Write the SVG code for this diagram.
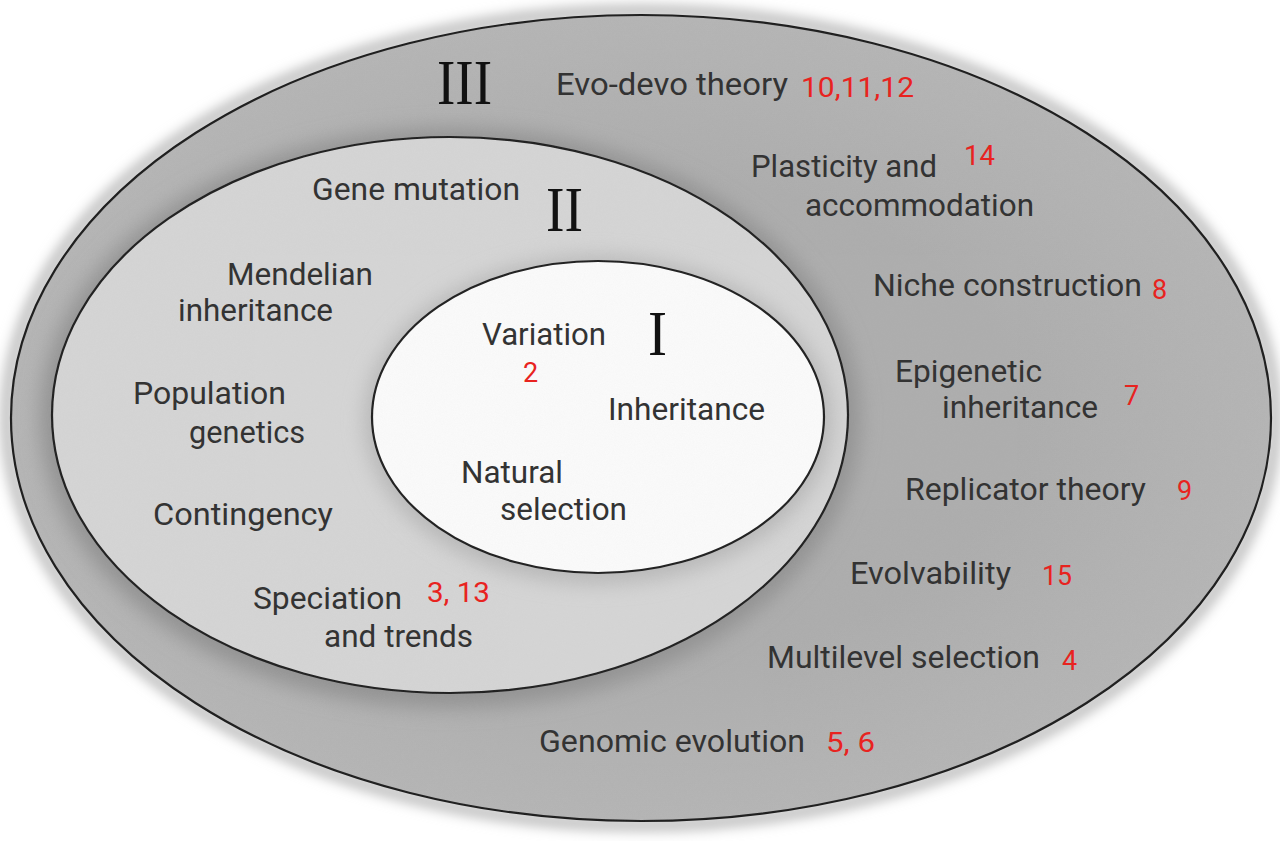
<svg xmlns="http://www.w3.org/2000/svg" width="1280" height="841" viewBox="0 0 1280 841">
  <defs>
    <filter id="blur6" x="-20%" y="-20%" width="140%" height="140%"><feGaussianBlur stdDeviation="6"/></filter>
    <filter id="blur10" x="-20%" y="-20%" width="140%" height="140%"><feGaussianBlur stdDeviation="10"/></filter>
    <filter id="noise" x="0" y="0" width="100%" height="100%">
      <feTurbulence type="fractalNoise" baseFrequency="0.9" numOctaves="2" seed="3" result="n"/>
      <feColorMatrix in="n" type="matrix" values="0 0 0 0 0.5  0 0 0 0 0.5  0 0 0 0 0.5  0 0 0 0.12 0"/>
    </filter>
    <clipPath id="outerClip"><ellipse cx="641" cy="418" rx="630" ry="403"/></clipPath>
    <clipPath id="midClip"><ellipse cx="450" cy="415" rx="398" ry="278"/></clipPath>
    <radialGradient id="outerGrad" cx="0.5" cy="0.5" r="0.5">
      <stop offset="0.6" stop-color="#adadad"/>
      <stop offset="1" stop-color="#b5b5b5"/>
    </radialGradient>
  </defs>
  <style>
    .lbl { font-family: Roboto, "Liberation Sans", sans-serif; font-size: 31px; fill: #333333; }
    .num { font-family: Roboto, "Liberation Sans", sans-serif; font-size: 27px; fill: #e8231f; }
    .rom { font-family: "Liberation Serif", "DejaVu Serif", serif; font-size: 64px; fill: #111111; }
    .edge { stroke: #1e1e1e; stroke-width: 2.2; }
  </style>
  <rect width="1280" height="841" fill="#ffffff"/>

  <g id="region-III">
    <ellipse cx="641" cy="418" rx="634" ry="407" fill="none" stroke="#c4c4c4" stroke-width="14" filter="url(#blur6)"/>
    <ellipse cx="641" cy="418" rx="630" ry="403" fill="url(#outerGrad)"/>
    <g clip-path="url(#outerClip)">
      <ellipse cx="450" cy="418" rx="410" ry="290" fill="#939393" filter="url(#blur10)"/>
    </g>
    <ellipse cx="641" cy="418" rx="630" ry="403" fill="none" class="edge"/>
  </g>

  <g id="region-II">
    <ellipse cx="450" cy="415" rx="398" ry="278" fill="#d5d5d5"/>
    <g clip-path="url(#midClip)">
      <ellipse cx="598" cy="420" rx="234" ry="164" fill="#b8b8b8" filter="url(#blur10)"/>
    </g>
    <ellipse cx="450" cy="415" rx="398" ry="278" fill="none" class="edge"/>
  </g>

  <g id="region-I">
    <ellipse cx="598" cy="417" rx="226" ry="156" fill="#fbfbfb" class="edge"/>
  </g>

  <rect width="1280" height="841" filter="url(#noise)" clip-path="url(#outerClip)" opacity="0.6"/>

  <g id="connectors"/>

  <g id="numerals">
    <text class="rom" x="437" y="104" textLength="55" lengthAdjust="spacingAndGlyphs">III</text>
    <text class="rom" x="546" y="231" textLength="37" lengthAdjust="spacingAndGlyphs">II</text>
    <text class="rom" x="648" y="355" textLength="19" lengthAdjust="spacingAndGlyphs">I</text>
  </g>

  <g id="node-evo-devo">
    <text class="lbl" x="556" y="95" textLength="232" lengthAdjust="spacingAndGlyphs">Evo-devo theory</text>
    <text class="num" x="801" y="97" textLength="113" lengthAdjust="spacingAndGlyphs">10,11,12</text>
  </g>
  <g id="node-plasticity">
    <text class="lbl" x="751" y="177" textLength="186" lengthAdjust="spacingAndGlyphs">Plasticity and</text>
    <text class="lbl" x="805" y="216" textLength="229" lengthAdjust="spacingAndGlyphs">accommodation</text>
    <text class="num" x="964" y="165" textLength="31" lengthAdjust="spacingAndGlyphs">14</text>
  </g>
  <g id="node-niche">
    <text class="lbl" x="873" y="296" textLength="269" lengthAdjust="spacingAndGlyphs">Niche construction</text>
    <text class="num" x="1152" y="299">8</text>
  </g>
  <g id="node-epigenetic">
    <text class="lbl" x="895" y="382" textLength="147" lengthAdjust="spacingAndGlyphs">Epigenetic</text>
    <text class="lbl" x="942" y="418" textLength="156" lengthAdjust="spacingAndGlyphs">inheritance</text>
    <text class="num" x="1124" y="405">7</text>
  </g>
  <g id="node-replicator">
    <text class="lbl" x="905" y="500" textLength="241" lengthAdjust="spacingAndGlyphs">Replicator theory</text>
    <text class="num" x="1177" y="500">9</text>
  </g>
  <g id="node-evolvability">
    <text class="lbl" x="850" y="584" textLength="161" lengthAdjust="spacingAndGlyphs">Evolvability</text>
    <text class="num" x="1042" y="585" textLength="30" lengthAdjust="spacingAndGlyphs">15</text>
  </g>
  <g id="node-multilevel">
    <text class="lbl" x="767" y="668" textLength="273" lengthAdjust="spacingAndGlyphs">Multilevel selection</text>
    <text class="num" x="1062" y="670">4</text>
  </g>
  <g id="node-genomic">
    <text class="lbl" x="539" y="752" textLength="266" lengthAdjust="spacingAndGlyphs">Genomic evolution</text>
    <text class="num" x="826" y="752" textLength="49" lengthAdjust="spacingAndGlyphs">5, 6</text>
  </g>

  <g id="node-gene-mutation">
    <text class="lbl" x="312" y="200" textLength="208" lengthAdjust="spacingAndGlyphs">Gene mutation</text>
  </g>
  <g id="node-mendelian">
    <text class="lbl" x="227" y="285" textLength="146" lengthAdjust="spacingAndGlyphs">Mendelian</text>
    <text class="lbl" x="178" y="321" textLength="155" lengthAdjust="spacingAndGlyphs">inheritance</text>
  </g>
  <g id="node-population">
    <text class="lbl" x="133" y="404" textLength="153" lengthAdjust="spacingAndGlyphs">Population</text>
    <text class="lbl" x="189" y="443" textLength="116" lengthAdjust="spacingAndGlyphs">genetics</text>
  </g>
  <g id="node-contingency">
    <text class="lbl" x="153" y="525" textLength="180" lengthAdjust="spacingAndGlyphs">Contingency</text>
  </g>
  <g id="node-speciation">
    <text class="lbl" x="253" y="609" textLength="149" lengthAdjust="spacingAndGlyphs">Speciation</text>
    <text class="lbl" x="324" y="647" textLength="149" lengthAdjust="spacingAndGlyphs">and trends</text>
    <text class="num" x="427" y="602" textLength="63" lengthAdjust="spacingAndGlyphs">3, 13</text>
  </g>

  <g id="node-variation">
    <text class="lbl" x="482" y="345" textLength="124" lengthAdjust="spacingAndGlyphs">Variation</text>
    <text class="num" x="523" y="382">2</text>
  </g>
  <g id="node-inheritance">
    <text class="lbl" x="608" y="420" textLength="157" lengthAdjust="spacingAndGlyphs">Inheritance</text>
  </g>
  <g id="node-natural-selection">
    <text class="lbl" x="461" y="483" textLength="102" lengthAdjust="spacingAndGlyphs">Natural</text>
    <text class="lbl" x="500" y="520" textLength="127" lengthAdjust="spacingAndGlyphs">selection</text>
  </g>
</svg>
